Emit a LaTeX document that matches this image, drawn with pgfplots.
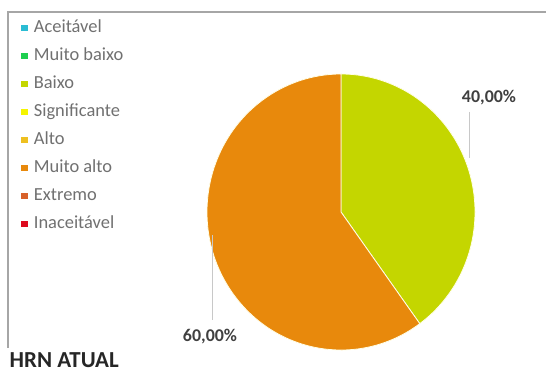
\documentclass[border=0pt]{standalone}
\usepackage{pgfplots}
\usepackage{pgfplotstable}
\pgfplotsset{compat=1.18}
\usepackage{fontspec}
\setmainfont{Carlito}
\definecolor{cAce}{HTML}{2BBCD3}
\definecolor{cMB}{HTML}{1DCF4F}
\definecolor{cB}{HTML}{C4D600}
\definecolor{cS}{HTML}{F5F500}
\definecolor{cA}{HTML}{EEC020}
\definecolor{cMA}{HTML}{E8890C}
\definecolor{cE}{HTML}{D8612A}
\definecolor{cI}{HTML}{DD0A1E}
\definecolor{framegray}{HTML}{A6A6A6}
\definecolor{leader}{HTML}{C8C8C8}
\definecolor{txt}{HTML}{404040}

\pgfplotstableread{
label value
Aceitavel 0
MuitoBaixo 0
Baixo 40
Significante 0
Alto 0
MuitoAlto 60
Extremo 0
Inaceitavel 0
}\datatable

\begin{document}
\begin{tikzpicture}
\pgfplotstablegetelem{2}{value}\of\datatable \let\vB\pgfplotsretval
\pgfplotstablegetelem{5}{value}\of\datatable \let\vM\pgfplotsretval
\pgfmathsetmacro\aB{90-360*\vB/(\vB+\vM)}
\pgfmathsetmacro\ex{341+134*cos(\aB)}
\pgfmathsetmacro\ey{160+138*sin(\aB)}
\begin{axis}[
  width=546bp, height=372bp, scale only axis,
  xmin=0, xmax=546, ymin=0, ymax=372,
  hide axis, clip=false,
  legend style={at={(axis cs:18,354)}, anchor=north west, draw=none, fill=none,
    font=\fontsize{18.5}{21}\selectfont\color{txt!75}, row sep=12.5bp,
    nodes={inner sep=0pt, text height=12bp, text depth=3.5bp, anchor=west},
    legend cell align=left},
  legend image code/.code={\fill[#1] (0bp,-2.5bp) rectangle (5.5bp,2.5bp); \path[draw=none, fill=none] (0bp,-1bp) rectangle (12.5bp,1bp);},
]
\addlegendimage{cAce}\addlegendentry{Aceitável}
\addlegendimage{cMB}\addlegendentry{Muito baixo}
\addlegendimage{cB}\addlegendentry{Baixo}
\addlegendimage{cS}\addlegendentry{Significante}
\addlegendimage{cA}\addlegendentry{Alto}
\addlegendimage{cMA}\addlegendentry{Muito alto}
\addlegendimage{cE}\addlegendentry{Extremo}
\addlegendimage{cI}\addlegendentry{Inaceitável}
\coordinate (bl) at (axis cs:0,0);
\coordinate (tr) at (axis cs:546,372);
% frame
\draw[framegray, line width=1.2bp] (axis cs:8,24) -- (axis cs:8,360) -- (axis cs:546,360);
% pie slices
\fill[cB, draw=white!90!yellow, line width=0.8bp] (axis cs:341,160) -- (axis cs:341,298)
  arc[start angle=90, end angle=\aB, x radius=134bp, y radius=138bp] -- cycle;
\fill[cMA, draw=white!90!yellow, line width=0.8bp] (axis cs:341,160) -- (axis cs:\ex,\ey)
  arc[start angle=\aB, end angle=-270, x radius=134bp, y radius=138bp] -- cycle;
% leader lines
\draw[leader, line width=0.8bp] (axis cs:469,260) -- (axis cs:469,214);
\draw[leader, line width=0.8bp] (axis cs:212,137) -- (axis cs:212,52);
% data labels
\node[font=\fontsize{18}{20}\bfseries\selectfont, text=txt] at (axis cs:489,274) {40,00\%};
\node[font=\fontsize{18}{20}\bfseries\selectfont, text=txt] at (axis cs:210,35) {60,00\%};
% title
\node[anchor=base west, inner sep=0pt, font=\fontsize{23}{25}\bfseries\selectfont, text=black!85] at (axis cs:9.5,5) {HRN ATUAL};
\end{axis}
\pgfresetboundingbox
\path[use as bounding box] (bl) rectangle (tr);
\end{tikzpicture}
\end{document}
